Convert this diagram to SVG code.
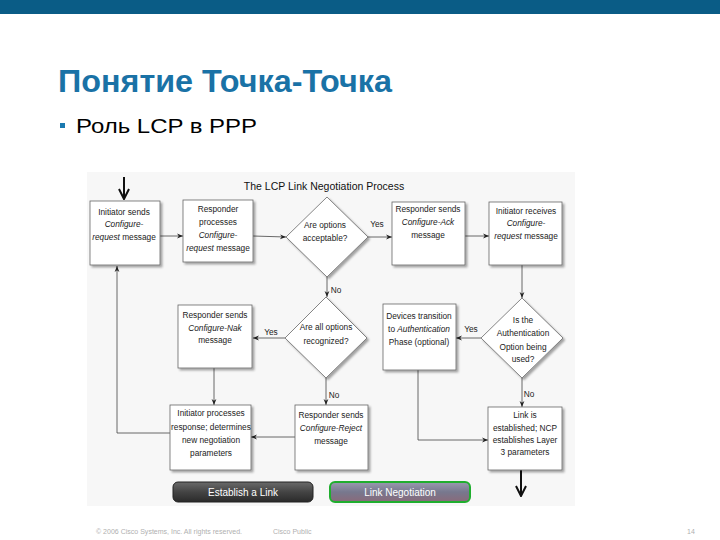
<svg xmlns="http://www.w3.org/2000/svg" width="720" height="540" viewBox="0 0 720 540">
<defs>
<style>
.box{fill:#fff;stroke:#666;stroke-width:0.8}
.t{font-family:"Liberation Sans",Arial,sans-serif;font-size:8.3px;fill:#222;text-anchor:middle}
.i{font-style:italic}
.c{stroke:#444;stroke-width:0.8;fill:none}
.thick{stroke:#111;stroke-width:2;fill:none}
.btn{font-family:"Liberation Sans",Arial,sans-serif;font-size:10px;fill:#fff;text-anchor:middle}
.ft{font-family:"Liberation Sans",Arial,sans-serif;font-size:7px;fill:#b0b0b0}
</style>
<marker id="ah" viewBox="0 0 10 10" refX="10" refY="5" markerWidth="7" markerHeight="6" orient="auto" markerUnits="userSpaceOnUse">
<path d="M0,1 L10,5 L0,9 L3,5 z" fill="#222"/>
</marker>
<marker id="big" viewBox="0 0 12 12" refX="11" refY="6" markerWidth="12" markerHeight="12" orient="auto" markerUnits="userSpaceOnUse">
<path d="M1,1 L11,6 L1,11" fill="none" stroke="#111" stroke-width="2"/>
</marker>
<filter id="sh" x="-10%" y="-10%" width="130%" height="130%">
<feDropShadow dx="2" dy="2" stdDeviation="1.2" flood-color="#000" flood-opacity="0.35"/>
</filter>
<linearGradient id="g1" x1="0" y1="0" x2="0" y2="1">
<stop offset="0" stop-color="#6a6a6a"/><stop offset="0.5" stop-color="#444"/><stop offset="1" stop-color="#2a2a2a"/>
</linearGradient>
<linearGradient id="g2" x1="0" y1="0" x2="0" y2="1">
<stop offset="0" stop-color="#9a9ab0"/><stop offset="0.5" stop-color="#77788e"/><stop offset="1" stop-color="#8a6a7a"/>
</linearGradient>
</defs>

<rect x="0" y="0" width="720" height="540" fill="#fff"/>
<rect x="0" y="0" width="720" height="14" fill="#0a5c86"/>
<text x="58" y="92" font-family="Liberation Sans,Arial,sans-serif" font-weight="bold" font-size="31" fill="#1a72a6" textLength="334" lengthAdjust="spacingAndGlyphs">Понятие Точка-Точка</text>
<rect x="60" y="123" width="5" height="5" fill="#1a7ab0"/>
<text x="76" y="133" font-family="Liberation Sans,Arial,sans-serif" font-size="20" fill="#000" textLength="181" lengthAdjust="spacingAndGlyphs">Роль LCP в PPP</text>

<rect x="87" y="172" width="488" height="334" fill="#f7f7f7"/>
<text x="324" y="190" font-family="Liberation Sans,Arial,sans-serif" font-size="10.5" fill="#111" text-anchor="middle">The LCP Link Negotiation Process</text>

<g id="connectors">
<path class="thick" d="M124,177 L124,199" marker-end="url(#big)"/>
<path class="c" d="M160,236 L183,236" marker-end="url(#ah)"/>
<path class="c" d="M253,236 L286,237" marker-end="url(#ah)"/>
<path class="c" d="M368,237 L392,237" marker-end="url(#ah)"/>
<text class="t" x="377" y="227">Yes</text>
<path class="c" d="M465,236 L489,236" marker-end="url(#ah)"/>
<path class="c" d="M522,265 L522,298" marker-end="url(#ah)"/>
<path class="c" d="M327,277 L327,297" marker-end="url(#ah)"/>
<text class="t" x="336" y="293">No</text>
<path class="c" d="M285,338 L253,338" marker-end="url(#ah)"/>
<text class="t" x="271" y="335">Yes</text>
<path class="c" d="M481,338 L456,338" marker-end="url(#ah)"/>
<text class="t" x="471" y="332">Yes</text>
<path class="c" d="M522,378 L522,407" marker-end="url(#ah)"/>
<text class="t" x="529" y="397">No</text>
<path class="c" d="M326,378 L326,405" marker-end="url(#ah)"/>
<text class="t" x="334" y="398">No</text>
<path class="c" d="M214,368 L214,405" marker-end="url(#ah)"/>
<path class="c" d="M295,437 L251,437" marker-end="url(#ah)"/>
<path class="c" d="M170,433 L117,433 L117,266" marker-end="url(#ah)"/>
<path class="c" d="M418,370 L418,440 L488,440" marker-end="url(#ah)"/>
<path class="thick" d="M521,470 L521,496" marker-end="url(#big)"/>
</g>

<g id="n1">
<rect class="box" x="90" y="201" width="70" height="64" filter="url(#sh)"/>
<text class="t" x="124" y="215">Initiator sends</text>
<text class="t i" x="124" y="227">Configure-</text>
<text class="t" x="124" y="240"><tspan class="i">request</tspan> message</text>
</g>
<g id="n2">
<rect class="box" x="183" y="200" width="70" height="62" filter="url(#sh)"/>
<text class="t" x="218" y="212">Responder</text>
<text class="t" x="218" y="225">processes</text>
<text class="t i" x="218" y="238">Configure-</text>
<text class="t" x="218" y="251"><tspan class="i">request</tspan> message</text>
</g>
<g id="n3">
<polygon class="box" points="327,197 368,237 327,277 286,237" filter="url(#sh)"/>
<text class="t" x="325" y="228">Are options</text>
<text class="t" x="325" y="241">acceptable?</text>
</g>
<g id="n4">
<rect class="box" x="392" y="202" width="73" height="63" filter="url(#sh)"/>
<text class="t" x="428" y="212">Responder sends</text>
<text class="t i" x="428" y="225">Configure-Ack</text>
<text class="t" x="428" y="238">message</text>
</g>
<g id="n5">
<rect class="box" x="489" y="202" width="73" height="63" filter="url(#sh)"/>
<text class="t" x="526" y="214">Initiator receives</text>
<text class="t i" x="526" y="226">Configure-</text>
<text class="t" x="526" y="239"><tspan class="i">request</tspan> message</text>
</g>
<g id="n6">
<polygon class="box" points="326,297 367,338 326,378 285,338" filter="url(#sh)"/>
<text class="t" x="326" y="330">Are all options</text>
<text class="t" x="326" y="344">recognized?</text>
</g>
<g id="n7">
<rect class="box" x="178" y="305" width="74" height="63" filter="url(#sh)"/>
<text class="t" x="215" y="318">Responder sends</text>
<text class="t i" x="215" y="331">Configure-Nak</text>
<text class="t" x="215" y="343">message</text>
</g>
<g id="n8">
<polygon class="box" points="522,298 563,338 522,378 481,338" filter="url(#sh)"/>
<text class="t" x="523" y="323">Is the</text>
<text class="t" x="523" y="336">Authentication</text>
<text class="t" x="523" y="350">Option being</text>
<text class="t" x="523" y="362">used?</text>
</g>
<g id="n9">
<rect class="box" x="383" y="304" width="73" height="66" filter="url(#sh)"/>
<text class="t" x="419" y="319">Devices transition</text>
<text class="t" x="419" y="332">to <tspan class="i">Authentication</tspan></text>
<text class="t" x="419" y="345">Phase (optional)</text>
</g>
<g id="n10">
<rect class="box" x="170" y="405" width="81" height="65" filter="url(#sh)"/>
<text class="t" x="211" y="416">Initiator processes</text>
<text class="t" x="211" y="430">response; determines</text>
<text class="t" x="211" y="443">new negotiation</text>
<text class="t" x="211" y="456">parameters</text>
</g>
<g id="n11">
<rect class="box" x="295" y="405" width="73" height="65" filter="url(#sh)"/>
<text class="t" x="331" y="418">Responder sends</text>
<text class="t i" x="331" y="431">Configure-Reject</text>
<text class="t" x="331" y="444">message</text>
</g>
<g id="n12">
<rect class="box" x="488" y="407" width="74" height="63" filter="url(#sh)"/>
<text class="t" x="525" y="418">Link is</text>
<text class="t" x="525" y="431">established; NCP</text>
<text class="t" x="525" y="443">establishes Layer</text>
<text class="t" x="525" y="455">3 parameters</text>
</g>

<g id="btn1">
<rect x="173" y="482" width="140" height="20" rx="5" fill="url(#g1)" stroke="#222" stroke-width="1"/>
<text class="btn" x="243" y="496">Establish a Link</text>
</g>
<g id="btn2">
<rect x="330" y="482" width="140" height="20" rx="5" fill="url(#g2)" stroke="#1fae2e" stroke-width="2"/>
<text class="btn" x="400" y="496">Link Negotiation</text>
</g>

<text class="ft" x="96" y="534" textLength="146" lengthAdjust="spacingAndGlyphs">© 2006 Cisco Systems, Inc. All rights reserved.</text>
<text class="ft" x="273" y="534">Cisco Public</text>
<text class="ft" x="687" y="534">14</text>
</svg>
